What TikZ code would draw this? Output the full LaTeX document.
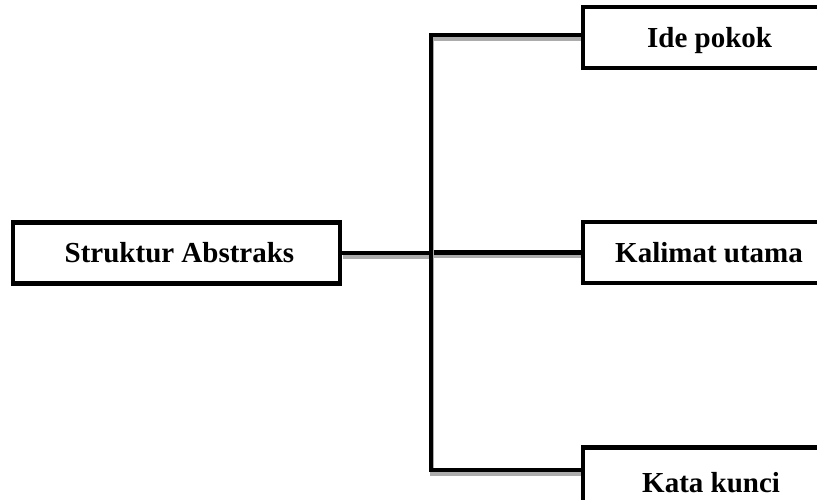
\documentclass[tikz,border=0pt]{standalone}
\usepackage{fontspec}
\setmainfont{Liberation Serif}
\begin{document}
\begin{tikzpicture}[x=1pt,y=-1pt,
  box/.style={draw=black,line width=4.5pt,fill=white,inner sep=0pt,font=\fontsize{29}{32}\selectfont\bfseries},
  rbox/.style={fill=white,inner sep=0pt,minimum width=320pt,minimum height=61pt,anchor=west},
  edge/.style={line width=4.5pt,black},
  lbl/.style={font=\fontsize{29}{32}\selectfont\bfseries,anchor=base west,inner sep=0pt},
  conn/.style={line width=4.5pt,black,preaction={draw=gray!65,line width=4pt,transform canvas={shift={(1pt,-3.5pt)}}}}]
\useasboundingbox (0,0) rectangle (817,499);
\begin{scope}
\clip (0,0) rectangle (817,499);
\coordinate (top) at (431,35);
\coordinate (bot) at (431,470);
\node[box,minimum width=327pt,minimum height=61pt] (main) at (176.5,253) {\hspace*{6pt}Struktur Abstraks};
\node[rbox] (ide) at (583,37.5) {};
\node[rbox] (kal) at (583,252.5) {};
\node[rbox] (kata) at (583,478) {};
\draw[conn] (main.east) -- (main.east -| top);
\draw[conn] (kal.west -| top) -- (kal.west);
\draw[conn] (ide.west |- top) -- (top) -- (bot) -- (kata.west |- bot);
\foreach \b in {ide,kal,kata}{
  \fill[white] (\b.north west) rectangle (\b.south east);
  \draw[edge] (\b.north east) -- (\b.north west) -- (\b.south west) -- (\b.south east);
}
\node[box,minimum width=327pt,minimum height=61pt] at (main) {\hspace*{6pt}Struktur Abstraks};
\node[lbl] (t1) at (647,47) {Ide pokok};
\node[lbl] (t2) at (615,262) {Kalimat utama};
\node[lbl] (t3) at (642,492) {Kata kunci};
\end{scope}
\end{tikzpicture}
\end{document}
